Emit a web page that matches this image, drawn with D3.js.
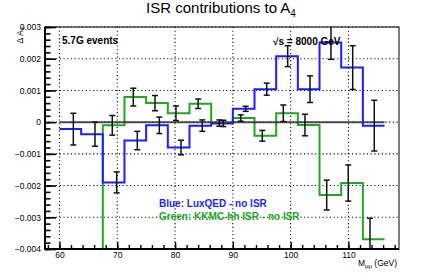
<!DOCTYPE html>
<html>
<head>
<meta charset="utf-8">
<script src="https://cdn.jsdelivr.net/npm/d3@7"></script>
<style>
  body { margin: 0; background: #fff; }
  text { font-family: "Liberation Sans", Arial, sans-serif; }
</style>
</head>
<body>
<div id="grafico"></div>
<script>
// bins (GeV) and values
const binEdges = [60, 63.75, 67.5, 71.25, 75, 78.75, 82.5, 86.25, 90, 93.75, 97.5, 101.25, 105, 108.75, 112.5, 116.25];

// Blue: LuxQED - no ISR
const blueVals = [-0.00022, -0.00038, -0.0019, -0.00058, -0.0001, -0.0008, -0.00011, -0.00004, 0.00042, 0.00104, 0.00208, 0.00104, 0.00251, 0.00172, -0.00011];
const blueErr = [0.0005, 0.00038, 0.00033, 0.00029, 0.00026, 0.00023, 0.00018, 0.0001, 0.00008, 0.00019, 0.00033, 0.00042, 0.00053, 0.00069, 0.0008];
const blueErrX = [62.4, 66.15, 69.9, 73.47, 77.28, 81.03, 84.71, 88.35, 92.22, 95.86, 99.49, 103.35, 106.98, 110.74, 114.47];

// Green: KKMC-hh ISR - no ISR (first two bins are off scale)
const greenVals = [-0.0055, -0.005, -0.0001, 0.00079, 0.0006, 0.00028, 0.00058, -0.00003, 0.00013, -0.00043, 0.00028, -0.00009, -0.0023, -0.00192, -0.00369];
const greenErr = [null, null, 0.00031, 0.00028, 0.00024, 0.00023, 0.00015, 0.0001, 0.0001, 0.00017, 0.00026, 0.00034, 0.00047, 0.00057, 0.00066];
const greenErrX = [null, null, 69.14, 72.78, 76.53, 80.16, 84.0, 87.66, 91.36, 95.1, 98.73, 102.48, 106.24, 109.97, 113.73];

const yTickLabels = ["\u22120.004", "\u22120.003", "\u22120.002", "\u22120.001", "0", "0.001", "0.002", "0.003"];

/**************************************************
 * Dimensions
***************************************************/
const width = 443;
const height = 277;
const marginLeft = 45;
const marginRight = 44;
const marginTop = 27;
const marginBottom = 28;

const svg = d3.select("#grafico")
    .append("svg")
    .attr("width", width)
    .attr("height", height)
    .style("background", "#fff");

/**************************************************
 * Scales
***************************************************/
const xScale = d3.scaleLinear()
    .domain([57.5, 118.75])
    .range([marginLeft, width - marginRight]);

const yScale = d3.scaleLinear()
    .domain([-0.004, 0.003])
    .range([height - marginBottom, marginTop]);

svg.append("clipPath").attr("id", "frame-clip")
    .append("rect")
    .attr("x", marginLeft).attr("y", marginTop)
    .attr("width", width - marginLeft - marginRight)
    .attr("height", height - marginTop - marginBottom);

/**************************************************
 * Grid
***************************************************/
const grid = svg.append("g")
    .attr("stroke", "#000")
    .attr("stroke-width", 1.1)
    .attr("stroke-dasharray", "1.1,2.6");

grid.selectAll(".gx")
    .data(xScale.ticks(6))
    .join("line")
    .attr("x1", d => xScale(d)).attr("x2", d => xScale(d))
    .attr("y1", marginTop).attr("y2", height - marginBottom);

grid.selectAll(".gy")
    .data(yScale.ticks(7))
    .join("line")
    .attr("x1", marginLeft).attr("x2", width - marginRight)
    .attr("y1", d => yScale(d)).attr("y2", d => yScale(d));

/**************************************************
 * Histograms
***************************************************/
const plot = svg.append("g").attr("clip-path", "url(#frame-clip)");

const stepLine = d3.line()
    .x(d => xScale(d[0]))
    .y(d => yScale(d[1]))
    .curve(d3.curveStepAfter);

const toSteps = vals => vals.map((v, i) => [binEdges[i], v])
    .concat([[binEdges[binEdges.length - 1], vals[vals.length - 1]]]);

plot.append("path")
    .attr("d", stepLine(toSteps(greenVals)))
    .attr("fill", "none")
    .attr("stroke", "#22a622")
    .attr("stroke-width", 2);

plot.append("path")
    .attr("d", stepLine(toSteps(blueVals)))
    .attr("fill", "none")
    .attr("stroke", "#1e1eff")
    .attr("stroke-width", 2);

// zero line
plot.append("line")
    .attr("x1", xScale(binEdges[0]))
    .attr("x2", xScale(binEdges[binEdges.length - 1]))
    .attr("y1", yScale(0)).attr("y2", yScale(0))
    .attr("stroke", "#333")
    .attr("stroke-opacity", 0.85)
    .attr("stroke-width", 2);

/**************************************************
 * Error bars
***************************************************/
const errData = blueVals.map((v, i) => ({ x: blueErrX[i], v, e: blueErr[i] }))
    .concat(greenVals.map((v, i) => ({ x: greenErrX[i], v, e: greenErr[i] })))
    .filter(d => d.e !== null);

const bars = plot.selectAll(".err")
    .data(errData)
    .join("g")
    .attr("class", "err")
    .attr("stroke", "#111")
    .attr("stroke-width", 1.5);

bars.append("line")
    .attr("x1", d => xScale(d.x)).attr("x2", d => xScale(d.x))
    .attr("y1", d => yScale(d.v + d.e)).attr("y2", d => yScale(d.v - d.e));

bars.selectAll(".cap")
    .data(d => [[d.x, d.v + d.e], [d.x, d.v - d.e]])
    .join("line")
    .attr("x1", d => xScale(d[0]) - 3).attr("x2", d => xScale(d[0]) + 3)
    .attr("y1", d => yScale(d[1])).attr("y2", d => yScale(d[1]));

/**************************************************
 * Axes
***************************************************/
const yAxis = d3.axisLeft(yScale)
    .tickValues(yScale.ticks(7))
    .tickSize(-11)
    .tickPadding(4)
    .tickFormat((d, i) => yTickLabels[i]);

const yMinor = d3.axisLeft(yScale)
    .ticks(35)
    .tickSize(-5.5)
    .tickFormat("");

const xAxis = d3.axisBottom(xScale)
    .ticks(6)
    .tickSize(-7)
    .tickPadding(3)
    .tickFormat(d3.format("d"));

const xMinor = d3.axisBottom(xScale)
    .ticks(30)
    .tickSize(-4)
    .tickFormat("");

[yAxis, yMinor].forEach(ax => {
    svg.append("g")
        .attr("transform", `translate(${marginLeft},0)`)
        .call(ax)
        .call(g => g.select(".domain").remove())
        .call(g => g.selectAll("line").attr("stroke", "#000").attr("stroke-width", 1.6))
        .call(g => g.selectAll("text").attr("font-size", 8.5).attr("fill", "#000")
            .attr("font-family", "Liberation Sans, Arial, sans-serif"));
});

[xAxis, xMinor].forEach(ax => {
    svg.append("g")
        .attr("transform", `translate(0,${height - marginBottom})`)
        .call(ax)
        .call(g => g.select(".domain").remove())
        .call(g => g.selectAll("line").attr("stroke", "#000").attr("stroke-width", 1.4))
        .call(g => g.selectAll("text").attr("font-size", 8.5).attr("fill", "#000")
            .attr("font-family", "Liberation Sans, Arial, sans-serif"));
});

// frame
svg.append("rect")
    .attr("x", marginLeft).attr("y", marginTop)
    .attr("width", width - marginLeft - marginRight)
    .attr("height", height - marginTop - marginBottom)
    .attr("fill", "none")
    .attr("stroke", "#000")
    .attr("stroke-width", 1);

svg.append("path")
    .attr("d", `M${marginLeft},${marginTop}V${height - marginBottom}H${width - marginRight}`)
    .attr("fill", "none")
    .attr("stroke", "#000")
    .attr("stroke-width", 2);

/**************************************************
 * Texts
***************************************************/
const title = svg.append("text")
    .attr("x", 221)
    .attr("y", 13)
    .attr("text-anchor", "middle")
    .attr("font-size", 15);
title.append("tspan").text("ISR contributions to A");
title.append("tspan").attr("font-size", 10).attr("dy", 4).text("4");

const yTitle = svg.append("text")
    .attr("transform", `translate(22.5,${marginTop}) rotate(-90)`)
    .attr("text-anchor", "end")
    .attr("font-size", 8.5);
yTitle.append("tspan").text("\u0394 A");
yTitle.append("tspan").attr("font-size", 6).attr("dy", 2.5).text("4");

const xTitle = svg.append("text")
    .attr("x", 397)
    .attr("y", 266)
    .attr("text-anchor", "end")
    .attr("font-size", 8.5);
xTitle.append("tspan").text("M");
xTitle.append("tspan").attr("font-size", 6).attr("dy", 2).text("\u03bc\u03bc");
xTitle.append("tspan").attr("dy", -2).text(" (GeV)");

svg.append("text")
    .attr("x", 62).attr("y", 43.5)
    .attr("font-size", 10).attr("font-weight", "bold")
    .text("5.7G events");

svg.append("text")
    .attr("x", 273).attr("y", 44.5)
    .attr("font-size", 10).attr("font-weight", "bold")
    .text("\u221as = 8000 GeV");

svg.append("text")
    .attr("x", 159).attr("y", 206.5)
    .attr("font-size", 10).attr("font-weight", "bold")
    .attr("fill", "#1e1eff")
    .text("Blue: LuxQED - no ISR");

svg.append("text")
    .attr("x", 159).attr("y", 219.5)
    .attr("font-size", 10).attr("font-weight", "bold")
    .attr("fill", "#22a622")
    .text("Green: KKMC-hh ISR - no ISR");
</script>
</body>
</html>
